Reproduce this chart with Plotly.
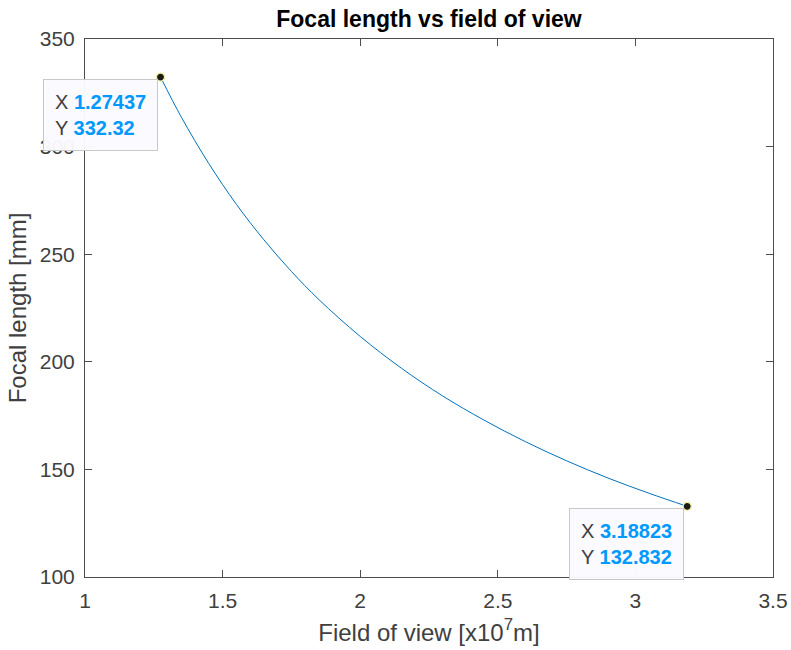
import plotly.graph_objects as go

# Data
fov = [1.27437, 1.35, 1.45, 1.55, 1.65, 1.75, 1.85, 2.0, 2.15, 2.3, 2.45,
       2.6, 2.75, 2.9, 3.05, 3.18823]
focal = [332.32, 313.7, 292.1, 273.2, 256.7, 242.0, 228.9, 211.8, 197.0,
         184.1, 172.9, 162.9, 154.0, 146.0, 138.9, 132.832]

tip_x = [1.27437, 3.18823]
tip_y = [332.32, 132.832]
tip_xlbl = ["1.27437", "3.18823"]
tip_ylbl = ["332.32", "132.832"]

x_ticks = [1, 1.5, 2, 2.5, 3, 3.5]
x_ticklabels = ["1", "1.5", "2", "2.5", "3", "3.5"]
y_ticks = [100, 150, 200, 250, 300, 350]
y_ticklabels = ["100", "150", "200", "250", "300", "350"]

FONT = "Liberation Sans, Arial, Helvetica, sans-serif"
BLUE = "#0072BD"
TIPBLUE = "rgb(0,153,255)"

fig = go.Figure()
fig.add_trace(go.Scatter(x=fov, y=focal, mode="lines", line=dict(color=BLUE, width=1, shape="spline"),
                         hoverinfo="skip", showlegend=False))
fig.add_trace(go.Scatter(x=tip_x, y=tip_y, mode="markers",
                         marker=dict(color="#1a1a1a", size=8, line=dict(color="#f2f0a0", width=1.2)),
                         hoverinfo="skip", showlegend=False))

for xv, yv, xl, yl in zip(tip_x, tip_y, tip_xlbl, tip_ylbl):
    fig.add_annotation(
        x=xv, y=yv, xref="x", yref="y", showarrow=False,
        xanchor="right", yanchor="top", xshift=-3, yshift=-2,
        align="left",
        text=(f"X <b><span style='color:{TIPBLUE}'>{xl}</span></b><br>"
              f"Y <b><span style='color:{TIPBLUE}'>{yl}</span></b>"),
        font=dict(family=FONT, size=20, color="#404040"),
        bgcolor="rgba(250,250,255,0.97)", bordercolor="#c8c8c8", borderwidth=1, borderpad=11,
    )

axis_common = dict(showgrid=False, zeroline=False, showline=True, linecolor="#4d4d4d",
                   linewidth=1, mirror="ticks", ticks="inside", ticklen=7, tickcolor="#4d4d4d",
                   automargin=False,
                   tickfont=dict(family=FONT, size=21, color="#404040"))

fig.update_layout(
    width=791, height=650,
    margin=dict(l=85, r=18, t=39, b=73, autoexpand=False),
    paper_bgcolor="white", plot_bgcolor="white",
    title=dict(text="<b>Focal length vs field of view</b>", x=0.5, xanchor="center",
               xref="paper", y=1 - 19 / 650, yref="container", yanchor="middle",
               automargin=False,
               font=dict(family=FONT, size=23, color="black")),
    xaxis=dict(range=[1, 3.5], tickvals=x_ticks, ticktext=x_ticklabels,
               ticklabelstandoff=5,
               title=dict(text="Field of view [x10<sup>7</sup>m]", standoff=12,
                          font=dict(family=FONT, size=24, color="#404040")),
               **axis_common),
    yaxis=dict(range=[100, 350], tickvals=y_ticks, ticktext=y_ticklabels,
               ticklabelstandoff=5,
               title=dict(text="Focal length [mm]", standoff=6,
                          font=dict(family=FONT, size=24, color="#404040")),
               **axis_common),
)

fig.write_html("out.html")
